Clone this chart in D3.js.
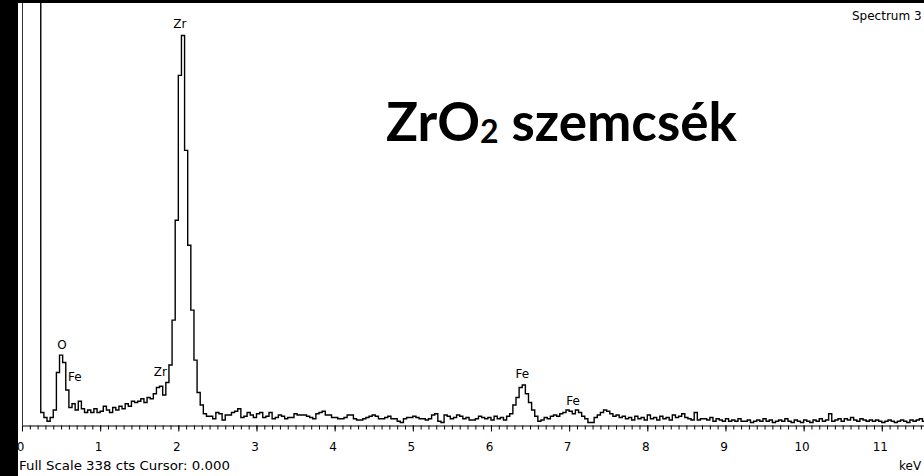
<!DOCTYPE html>
<html>
<head>
<meta charset="utf-8">
<script src="https://cdn.jsdelivr.net/npm/d3@7"></script>
<style>
html, body { margin: 0; padding: 0; background: #000; }
svg { display: block; }
.tick-label { font-family: "DejaVu Sans", Verdana, sans-serif; font-size: 12px; fill: #000; }
.peak-label { font-family: "DejaVu Sans", Verdana, sans-serif; font-size: 12px; fill: #000; }
.title { font-family: Lato, "Open Sans", sans-serif; font-weight: 700; font-size: 53px; fill: #000; }
</style>
</head>
<body>
<div id="chart"></div>
<script>
// EDS spectrum, 0.04 keV channels starting at 0 keV (counts)
const binWidth = 0.04;
const counts = [
    1500, 1500, 1500, 1500, 1500, 900, 10, 6, 3, 6,     // 0.0
    12, 42, 56, 50, 28, 14, 17, 12, 19, 13,             // 0.4
    10, 12, 10, 13, 10, 11, 15, 12, 10, 14,             // 0.8
    12, 15, 13, 17, 15, 19, 18, 19, 21, 18,             // 1.2
    22, 21, 25, 30, 31, 24, 34, 48, 84, 164,            // 1.6
    280, 312, 220, 144, 92, 52, 26, 16, 9, 7,           // 2.0
    7, 5, 10, 9, 4, 8, 8, 10, 11, 13,                   // 2.4
    6, 7, 10, 8, 6, 9, 10, 6, 7, 10,                    // 2.8
    5, 6, 8, 7, 5, 6, 6, 9, 8, 8,                       // 3.2
    8, 7, 6, 5, 9, 10, 11, 8, 8, 6,                     // 3.6
    6, 5, 5, 6, 8, 8, 5, 4, 4, 5,                       // 4.0
    6, 7, 8, 7, 5, 5, 6, 7, 5, 5,                       // 4.4
    3, 2, 5, 6, 6, 7, 6, 5, 5, 4,                       // 4.8
    5, 8, 9, 3, 2, 8, 7, 5, 6, 8,                       // 5.2
    7, 5, 6, 4, 4, 5, 7, 6, 5, 6,                       // 5.6
    4, 7, 5, 6, 4, 7, 9, 16, 22, 30,                    // 6.0
    32, 25, 18, 12, 7, 3, 4, 6, 5, 7,                   // 6.4
    8, 7, 9, 10, 12, 11, 9, 12, 10, 7,                  // 6.8
    5, 2, 2, 6, 8, 10, 12, 11, 9, 7,                    // 7.2
    8, 6, 7, 5, 6, 4, 7, 5, 6, 4,                       // 7.6
    8, 5, 6, 4, 7, 5, 6, 4, 8, 6,                       // 8.0
    7, 9, 6, 5, 4, 10, 4, 5, 5, 4,                      // 8.4
    6, 3, 5, 4, 3, 5, 3, 4, 3, 5,                       // 8.8
    3, 3, 4, 2, 3, 4, 3, 5, 3, 4,                       // 9.2
    2, 3, 4, 3, 5, 3, 2, 4, 3, 2,                       // 9.6
    4, 3, 2, 4, 3, 5, 3, 4, 9, 3,                       // 10.0
    4, 5, 3, 5, 4, 6, 4, 3, 5, 4,                       // 10.4
    3, 4, 3, 4, 3, 2, 3, 4, 3, 2,                       // 10.8
    3, 4, 3, 2, 4, 3, 4, 5, 3, 4                        // 11.2
];

const xTickLabels = [0, 1, 2, 3, 4, 5, 6, 7, 8, 9, 10, 11];
const fullScale = 338;
const keVMax = 11.54;

// element markers: label, energy (keV), counts where the label baseline sits
const peakNames = ["Zr", "O", "Fe", "Zr", "Fe", "Fe"];
const peakKeV = [2.02, 0.51, 0.59, 1.77, 6.40, 7.05];
const peakCts = [318, 61, 35, 39, 38, 16];
const peakAnchor = ["middle", "middle", "start", "middle", "middle", "middle"];

const titleMain = "ZrO";
const titleSub = "2";
const titleRest = " szemcsék";
const spectrumName = "Spectrum 3";
const footer = "Full Scale 338 cts Cursor: 0.000";
const unitLabel = "keV";

const W = 924, H = 476;
const plot = { left: 22, right: 924, top: 3, bottom: 425 };

let svg = d3.select("#chart").append("svg")
    .attr("width", W).attr("height", H);

// white panel, black strip on the left and a thin one on top
svg.append("rect").attr("x", 0).attr("y", 0).attr("width", W).attr("height", H).attr("fill", "#000");
svg.append("rect").attr("x", 18).attr("y", 3).attr("width", W - 18).attr("height", H - 3).attr("fill", "#fff");

let x = d3.scaleLinear().domain([0, keVMax]).range([plot.left, plot.right]);
let y = d3.scaleLinear().domain([0, fullScale]).range([plot.bottom, plot.top]);

svg.append("clipPath").attr("id", "plot-clip")
    .append("rect")
    .attr("x", plot.left).attr("y", plot.top)
    .attr("width", plot.right - plot.left).attr("height", plot.bottom - plot.top);

// spectrum as channel steps
let pts = counts.map(function(c, i) { return [i * binWidth, c]; });
pts.push([counts.length * binWidth, counts[counts.length - 1]]);

svg.append("path")
    .datum(pts)
    .attr("clip-path", "url(#plot-clip)")
    .attr("fill", "none")
    .attr("stroke", "#000")
    .attr("stroke-width", 1.4)
    .attr("d", d3.line()
          .x(function(d) { return x(d[0]); })
          .y(function(d) { return y(d[1]); })
          .curve(d3.curveStepAfter));

// left axis line
svg.append("line")
    .attr("x1", plot.left + 0.5).attr("x2", plot.left + 0.5)
    .attr("y1", plot.top).attr("y2", plot.bottom)
    .attr("stroke", "#333").attr("stroke-width", 1);

// x-axis, minor ticks every 0.1 keV
let minor = d3.range(0, keVMax + 0.001, 0.1);
svg.append("g")
    .attr("transform", "translate(0," + (plot.bottom + 0.5) + ")")
    .call(d3.axisBottom(x)
          .tickValues(minor)
          .tickSize(4)
          .tickSizeOuter(0)
          .tickFormat(""))
    .call(function(g) { g.select(".domain").attr("stroke", "#000"); })
    .call(function(g) { g.selectAll(".tick line").attr("stroke", "#000"); });

// major ticks and labels
svg.append("g")
    .attr("transform", "translate(0," + (plot.bottom + 0.5) + ")")
    .call(d3.axisBottom(x)
          .tickValues(xTickLabels)
          .tickSize(6)
          .tickSizeOuter(0)
          .tickPadding(11))
    .call(function(g) { g.select(".domain").remove(); })
    .call(function(g) { g.selectAll(".tick line").attr("stroke", "#000"); })
    .call(function(g) {
        g.selectAll(".tick text")
            .attr("class", "tick-label")
            .attr("font-family", null).attr("font-size", null)
            .attr("dx", -2);
    });

// redraw the black strip so the "0" gets cut like in the original
svg.append("rect").attr("x", 0).attr("y", 0).attr("width", 18).attr("height", H).attr("fill", "#000");

// peak markers
svg.selectAll(".peak-label")
    .data(peakNames)
    .enter().append("text")
    .attr("class", "peak-label")
    .attr("x", function(d, i) { return x(peakKeV[i]); })
    .attr("y", function(d, i) { return y(peakCts[i]); })
    .attr("text-anchor", function(d, i) { return peakAnchor[i]; })
    .text(function(d) { return d; });

// title
let t = svg.append("text")
    .attr("class", "title")
    .attr("x", 386).attr("y", 141);
t.append("tspan").text(titleMain);
t.append("tspan").attr("font-size", "32px").attr("dy", 2).text(titleSub);
t.append("tspan").attr("dy", -2).text(titleRest);

svg.append("text").attr("class", "tick-label")
    .attr("x", 852).attr("y", 20).text(spectrumName);

svg.append("text").attr("class", "tick-label")
    .attr("x", 19).attr("y", 470)
    .attr("textLength", 211).attr("lengthAdjust", "spacingAndGlyphs")
    .text(footer);

svg.append("text").attr("class", "tick-label")
    .attr("x", 899).attr("y", 470).text(unitLabel);
</script>
</body>
</html>
